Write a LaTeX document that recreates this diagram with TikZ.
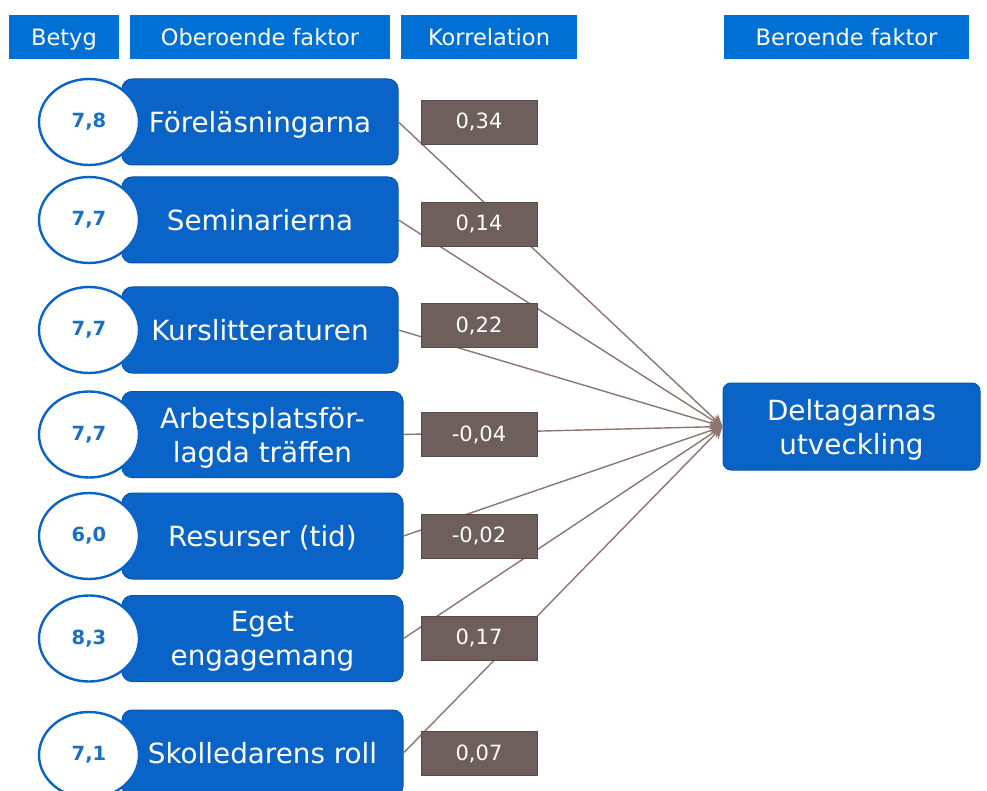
\documentclass[tikz,border=0pt]{standalone}
\usepackage{fontspec}
\setmainfont{DejaVu Sans}
\usetikzlibrary{arrows.meta,shapes.geometric}
\definecolor{hdrblue}{HTML}{0070D4}
\definecolor{boxblue}{HTML}{0A63C6}
\definecolor{boxedge}{HTML}{0855AE}
\definecolor{numblue}{HTML}{1A6FC4}
\definecolor{corrfill}{HTML}{6E5F5C}
\definecolor{corredge}{HTML}{574A47}
\definecolor{linebrown}{HTML}{8E7670}
\tikzset{
  hdr/.style={fill=hdrblue, text=white, minimum height=44pt, inner sep=0pt,
    text depth=0pt, font=\fontsize{22.5}{26}\selectfont},
  factor/.style={fill=boxblue, draw=boxedge, line width=1pt, rounded corners=10pt,
    text=white, minimum height=86pt, inner sep=0pt, align=center, text depth=0pt,
    font=\fontsize{27.8}{34}\selectfont},
  grade/.style={ellipse, fill=white, draw=boxblue, line width=2.4pt,
    minimum width=100pt, minimum height=86pt, inner sep=0pt, text=numblue,
    font=\bfseries\fontsize{19.5}{22}\selectfont},
  corr/.style={fill=corrfill, draw=corredge, line width=0.8pt, text=white,
    minimum width=116pt, minimum height=44pt, inner sep=0pt,
    font=\fontsize{21}{24}\selectfont},
  link/.style={draw=linebrown, line width=1.4pt,
    -{Stealth[length=12pt,width=12pt]}},
}
\begin{document}
\begin{tikzpicture}[x=1pt,y=-1pt]
\useasboundingbox (0,0) rectangle (987,791);
\fill[white] (0,0) rectangle (987,791);
% headers
\node[hdr, minimum width=110pt] (hBetyg) at (64,37) {Betyg};
\node[hdr, minimum width=260pt] (hOber) at (260,37) {Oberoende faktor};
\node[hdr, minimum width=176pt] (hKorr) at (489,37) {Korrelation};
\node[hdr, minimum width=245pt] (hBer) at (846.5,37) {Beroende faktor};
% factor boxes
\node[factor, minimum width=276pt] (f1) at (260,122) {Föreläsningarna};
\node[factor, minimum width=276pt] (f2) at (260,220) {Seminarierna};
\node[factor, minimum width=276pt] (f3) at (260,330) {Kurslitteraturen};
\node[factor, minimum width=281pt] (f4) at (262.5,434.5) {Arbetsplatsför-\\lagda träffen};
\node[factor, minimum width=281pt] (f5) at (262.5,536) {Resurser (tid)};
\node[factor, minimum width=281pt] (f6) at (262.5,638.5) {Eget\\engagemang};
\node[factor, minimum width=281pt] (f7) at (262.5,753) {Skolledarens roll};
% grades
\node[grade] (g1) at (89,122) {7,8};
\node[grade] (g2) at (89,220) {7,7};
\node[grade] (g3) at (89,330) {7,7};
\node[grade] (g4) at (89,434.5) {7,7};
\node[grade] (g5) at (89,536) {6,0};
\node[grade] (g6) at (89,638.5) {8,3};
\node[grade] (g7) at (89,755) {7,1};
% dependent factor
\node[factor, minimum width=257pt, minimum height=87pt, rounded corners=8pt] (dev) at (851.5,426.5) {Deltagarnas\\utveckling};
% connectors
\foreach \i in {1,...,7} {\draw[link] (f\i.east) -- (dev.west);}
% correlations
\node[corr] (c1) at (479,122) {0,34};
\node[corr] (c2) at (479,224) {0,14};
\node[corr] (c3) at (479,325.5) {0,22};
\node[corr] (c4) at (479,434.5) {-0,04};
\node[corr] (c5) at (479,536) {-0,02};
\node[corr] (c6) at (479,638) {0,17};
\node[corr] (c7) at (479,753.5) {0,07};
\end{tikzpicture}
\end{document}
